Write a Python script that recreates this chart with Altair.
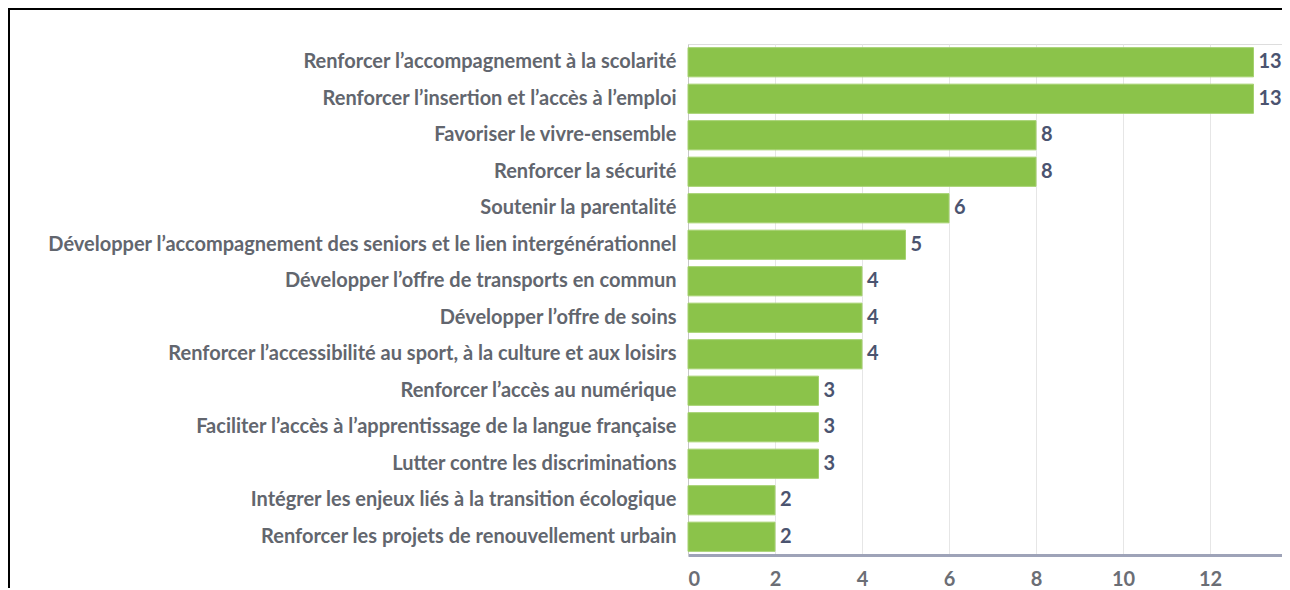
import altair as alt
import pandas as pd

categories = [
    "Renforcer l’accompagnement à la scolarité",
    "Renforcer l’insertion et l’accès à l’emploi",
    "Favoriser le vivre-ensemble",
    "Renforcer la sécurité",
    "Soutenir la parentalité",
    "Développer l’accompagnement des seniors et le lien intergénérationnel",
    "Développer l’offre de transports en commun",
    "Développer l’offre de soins",
    "Renforcer l’accessibilité au sport, à la culture et aux loisirs",
    "Renforcer l’accès au numérique",
    "Faciliter l’accès à l’apprentissage de la langue française",
    "Lutter contre les discriminations",
    "Intégrer les enjeux liés à la transition écologique",
    "Renforcer les projets de renouvellement urbain",
]
values = [13, 13, 8, 8, 6, 5, 4, 4, 4, 3, 3, 3, 2, 2]
tick_values = [0, 2, 4, 6, 8, 10, 12]

df = pd.DataFrame({"cat": categories, "val": values})

FONT = "Lato"
FS = 20
x_enc = alt.X(
    "val:Q",
    scale=alt.Scale(domain=[0, 13.655], nice=False),
    axis=alt.Axis(
        values=tick_values, title=None, ticks=False, domainColor="#9ea3b8",
        domainWidth=3, labelFontSize=FS, labelFont=FONT, labelFontWeight="bold",
        labelColor="#6b6e75", labelPadding=14, gridColor="#e6e6e6", gridWidth=1,
    ),
)
y_enc = alt.Y(
    "cat:N",
    sort=categories,
    scale=alt.Scale(paddingInner=0.2, paddingOuter=0.1),
    axis=alt.Axis(
        title=None, ticks=False, domainColor="#c8c8c8", domainWidth=1,
        labelFontSize=FS, labelFont=FONT, labelFontWeight="bold",
        labelColor="#62666e", labelPadding=12, labelLimit=0, grid=False,
    ),
)

bars = alt.Chart(df).mark_bar(color="#8bc34a", stroke="#a5d16f", strokeWidth=1).encode(
    x=x_enc, y=y_enc
)
labels = alt.Chart(df).mark_text(
    align="left", baseline="middle", dx=5, font=FONT, fontWeight="bold",
    fontSize=FS, color="#4b5470",
).encode(x="val:Q", y=alt.Y("cat:N", sort=categories), text="val:Q")

one = pd.DataFrame({"a": [0]})
left_border = alt.Chart(one).mark_rule(color="#000000", strokeWidth=3).encode(
    x=alt.value(-679.5), y=alt.value(-36), y2=alt.value(600)
)
top_border = alt.Chart(one).mark_rule(color="#000000", strokeWidth=3).encode(
    y=alt.value(-35.5), x=alt.value(-680), x2=alt.value(700)
)

chart = alt.layer(bars, labels, left_border, top_border).properties(
    width=594, height=511,
    autosize=alt.AutoSizeParams(type="none"),
    padding={"left": 680, "top": 36, "right": 0, "bottom": 33},
).configure_view(stroke=None).configure(background="white")

chart.save("out.html", embed_options={"renderer": "svg", "actions": False})
